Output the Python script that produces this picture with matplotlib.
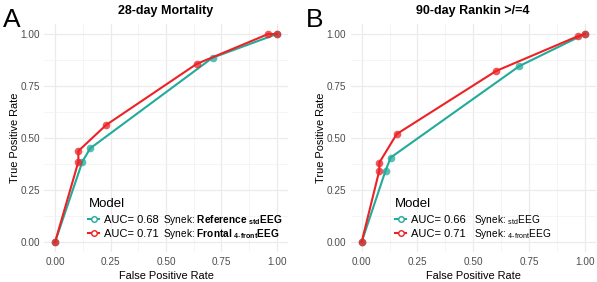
import matplotlib
matplotlib.use("Agg")
import matplotlib.pyplot as plt
from matplotlib.lines import Line2D
from matplotlib.ticker import MultipleLocator

plt.rcParams['font.family'] = ['Liberation Sans', 'DejaVu Sans']
plt.rcParams['mathtext.fontset'] = 'custom'
plt.rcParams['mathtext.rm'] = 'Liberation Sans'
plt.rcParams['mathtext.bf'] = 'Liberation Sans:bold'
plt.rcParams['mathtext.it'] = 'Liberation Sans:italic'

RED = "#EC2226"
TEAL = "#23AA9A"

# Panel A: 28-day Mortality
a_titles = "28-day Mortality"
a_std_fpr = [0.0, 0.123, 0.158, 0.71, 1.0]
a_std_tpr = [0.0, 0.386, 0.45, 0.886, 1.0]
a_front_fpr = [0.0, 0.105, 0.105, 0.23, 0.638, 0.961, 1.0]
a_front_tpr = [0.0, 0.386, 0.4375, 0.5625, 0.856, 1.0, 1.0]
a_auc = ["AUC= 0.68", "AUC= 0.71"]
a_synek = [r"Synek: $\mathbf{Reference}\ {}_{\mathbf{std}}\mathbf{EEG}$",
           r"Synek: $\mathbf{Frontal}\ {}_{\mathbf{4\text{-}front}}\mathbf{EEG}$"]

# Panel B: 90-day Rankin >/=4
b_titles = "90-day Rankin >/=4"
b_std_fpr = [0.0, 0.107, 0.13, 0.707, 1.0]
b_std_tpr = [0.0, 0.343, 0.406, 0.846, 1.0]
b_front_fpr = [0.0, 0.079, 0.079, 0.157, 0.602, 0.97, 1.0]
b_front_tpr = [0.0, 0.343, 0.381, 0.519, 0.822, 0.99, 1.0]
b_auc = ["AUC= 0.66", "AUC= 0.71"]
b_synek = [r"Synek: ${}_{\mathrm{std}}\mathrm{EEG}$",
           r"Synek: ${}_{\mathrm{4\text{-}front}}\mathrm{EEG}$"]

ticks = [0.0, 0.25, 0.5, 0.75, 1.0]
tick_labels = ["0.00", "0.25", "0.50", "0.75", "1.00"]

W, H = 597, 282
fig = plt.figure(figsize=(W / 100, H / 100), dpi=100)

def px_rect(x0, x1, ytop, ybot):
    return [x0 / W, (H - ybot) / H, (x1 - x0) / W, (ybot - ytop) / H]

axA = fig.add_axes(px_rect(44, 288, 23.6, 252.4))
axB = fig.add_axes(px_rect(350.5, 596, 23.6, 252.4))

panels = [
    (axA, a_titles, a_std_fpr, a_std_tpr, a_front_fpr, a_front_tpr, a_auc, a_synek, 'A', 3, 4),
    (axB, b_titles, b_std_fpr, b_std_tpr, b_front_fpr, b_front_tpr, b_auc, b_synek, 'B', 306, 9),
]

legends = []
for ax, title, sf, st, ff, ft, auc, syn, lab, lx, gap in panels:
    ax.set_xlim(-0.05, 1.05)
    ax.set_ylim(-0.05, 1.05)
    for s in ax.spines.values():
        s.set_visible(False)
    ax.xaxis.set_minor_locator(MultipleLocator(0.125))
    ax.yaxis.set_minor_locator(MultipleLocator(0.125))
    ax.set_xticks(ticks, tick_labels)
    ax.set_yticks(ticks, tick_labels)
    ax.grid(which='major', color='#EBEBEB', lw=0.9)
    ax.grid(which='minor', color='#F2F2F2', lw=0.5)
    ax.set_axisbelow(True)
    ax.tick_params(which='both', length=0, labelsize=7.2, labelcolor='#4D4D4D', pad=3)
    ax.set_xlabel("False Positive Rate", fontsize=7.9, labelpad=3)
    ax.set_ylabel("True Positive Rate", fontsize=7.9, labelpad=0.5)
    ax.set_title(title, fontsize=9, fontweight='bold', pad=7)

    ax.plot(sf, st, color=TEAL, lw=1.5, zorder=3)
    ax.plot(sf, st, 'o', color=TEAL, ms=5.5, alpha=0.75, mec='none', zorder=3)
    ax.plot(ff, ft, color=RED, lw=1.5, zorder=4)
    ax.plot(ff, ft, 'o', color=RED, ms=5.5, alpha=0.75, mec='none', zorder=4)

    handles = [Line2D([], [], color=TEAL, lw=1.5, marker='o', ms=4, mfc='white', mec=TEAL),
               Line2D([], [], color=RED, lw=1.5, marker='o', ms=4, mfc='white', mec=RED)]
    leg = ax.legend(handles, auc, title="Model", loc='lower left',
                    bbox_to_anchor=(0.15, 0.025), frameon=False,
                    fontsize=8, title_fontsize=9.5, handlelength=1.0,
                    handletextpad=0.4, labelspacing=0.38, borderpad=0.2)
    leg._legend_box.align = 'left'
    legends.append((ax, leg, syn, gap))

    fig.text(lx / W, (H - 27) / H, lab, fontsize=19, va='baseline', ha='left')

fig.canvas.draw()
renderer = fig.canvas.get_renderer()
for ax, leg, syn, gap in legends:
    for t, s in zip(leg.get_texts(), syn):
        bb = t.get_window_extent(renderer)
        x = bb.x1 + gap
        y = (bb.y0 + bb.y1) / 2
        fig.text(x / fig.dpi / fig.get_figwidth(), y / fig.dpi / fig.get_figheight(),
                 s, fontsize=7.3, va='center', ha='left')

fig.savefig("out.png", dpi=100)
